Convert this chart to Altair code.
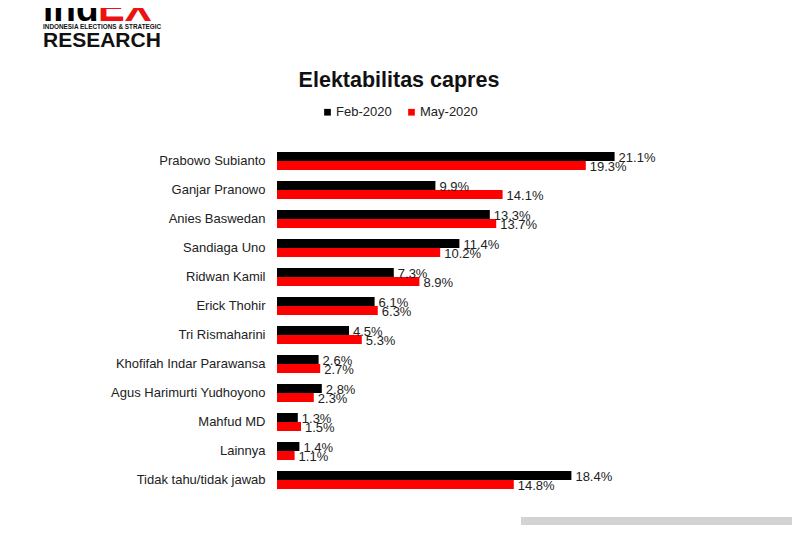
import altair as alt
import pandas as pd

names = ["Prabowo Subianto", "Ganjar Pranowo", "Anies Baswedan", "Sandiaga Uno",
         "Ridwan Kamil", "Erick Thohir", "Tri Rismaharini", "Khofifah Indar Parawansa",
         "Agus Harimurti Yudhoyono", "Mahfud MD", "Lainnya", "Tidak tahu/tidak jawab"]
feb = [21.1, 9.9, 13.3, 11.4, 7.3, 6.1, 4.5, 2.6, 2.8, 1.3, 1.4, 18.4]
may = [19.3, 14.1, 13.7, 10.2, 8.9, 6.3, 5.3, 2.7, 2.3, 1.5, 1.1, 14.8]
periods = ["Feb-2020", "May-2020"]
colors = ["#000000", "#ff0000"]
title_text = "Elektabilitas capres"

rows = []
for n, a, b in zip(names, feb, may):
    rows.append({"name": n, "period": periods[0], "value": a, "label": f"{a:.1f}%"})
    rows.append({"name": n, "period": periods[1], "value": b, "label": f"{b:.1f}%"})
df = pd.DataFrame(rows)

FONT = "Liberation Sans"

xscale = alt.Scale(domain=[0, 25], nice=False, zero=True)
y_enc = alt.Y("name:N", sort=names, title=None,
              scale=alt.Scale(paddingInner=0.38, paddingOuter=0.19),
              axis=alt.Axis(domain=False, ticks=False, labelFont=FONT, labelFontSize=13,
                            labelColor="#222222", labelPadding=12, labelLimit=300))

base = alt.Chart(df)

bars = base.mark_bar().encode(
    y=y_enc,
    yOffset=alt.YOffset("period:N", sort=periods),
    x=alt.X("value:Q", scale=xscale, axis=None),
    color=alt.Color("period:N", sort=periods,
                    scale=alt.Scale(domain=periods, range=colors),
                    legend=alt.Legend(title=None, orient="none", direction="horizontal",
                                      legendX=44, legendY=-41, symbolType="square",
                                      symbolSize=45, symbolStrokeWidth=0,
                                      labelFont=FONT, labelFontSize=13, labelColor="#222222",
                                      columnPadding=13, labelOffset=2, padding=0)),
)

labels = base.mark_text(align="left", baseline="middle", dx=4, dy=1.5,
                        font=FONT, fontSize=13, color="#222222").encode(
    y=alt.Y("name:N", sort=names),
    yOffset=alt.YOffset("period:N", sort=periods),
    x=alt.X("value:Q", scale=xscale, axis=None),
    text="label:N",
)

one = alt.Data(values=[{"a": 1}])

def txt(s, px, py, size, color, weight="normal", font=FONT, align="left"):
    return alt.Chart(one).mark_text(text=s, align=align, baseline="alphabetic",
                                    fontSize=size, fontWeight=weight, color=color,
                                    font=font).encode(
        x=alt.value(px - 277), y=alt.value(py - 146.5))

title = txt(title_text, 399, 87, 21.5, "#111111", "bold", FONT, "center")
logo1 = txt("ind", 43, 21, 37, "#000000", "bold")
logo2 = txt("EX", 98, 21, 40, "#ee1111", "bold")
logo3 = txt("INDONESIA ELECTIONS & STRATEGIC", 43, 28.5, 6.4, "#111111", "bold")
logo4 = txt("RESEARCH", 43, 47, 21, "#111111", "bold")

gray = alt.Chart(one).mark_rect(color="#d3d3d3").encode(
    x=alt.value(521 - 277), x2=alt.value(795 - 277),
    y=alt.value(517 - 146.5), y2=alt.value(540 - 146.5))

chart = alt.layer(bars, labels, title, logo1, logo2, logo3, logo4, gray).properties(
    width=400, height=348,
    padding={"left": 269, "top": 138.5, "right": 115, "bottom": 30.5},
    autosize=alt.AutoSizeParams(type="none"),
).configure(background="white").configure_view(stroke=None)

chart.save("out.html", embed_options={"renderer": "svg", "actions": False})
